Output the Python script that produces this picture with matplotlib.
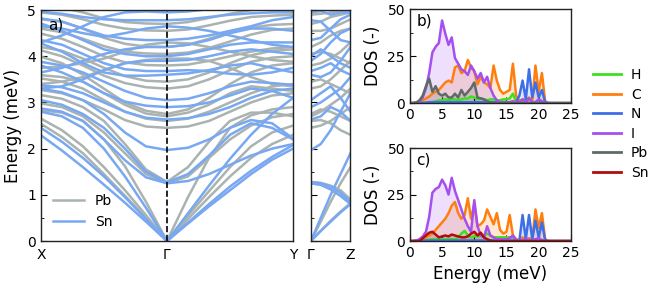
import numpy as np
import matplotlib
matplotlib.use('Agg')
import matplotlib.pyplot as plt
from matplotlib.ticker import MultipleLocator

# band energies (meV) from X to Gamma to Y, 6 steps per segment
sn_bands = [
    [2.29, 1.96, 1.60, 1.22, 0.83, 0.42, 0.00, 0.38, 0.75, 1.10, 1.45, 1.76, 2.00],
    [2.45, 2.15, 1.80, 1.40, 0.95, 0.48, 0.00, 0.40, 0.80, 1.18, 1.52, 1.82, 2.08],
    [2.80, 2.70, 2.45, 2.00, 1.40, 0.72, 0.00, 0.60, 1.20, 1.78, 2.30, 2.75, 3.10],
    [2.87, 2.80, 2.60, 2.20, 1.75, 1.38, 1.25, 1.30, 1.45, 1.65, 1.85, 2.00, 2.10],
    [3.05, 2.95, 2.75, 2.45, 2.00, 1.50, 1.27, 1.45, 1.85, 2.30, 2.55, 2.45, 2.20],
    [3.30, 3.22, 3.05, 2.75, 2.35, 2.05, 1.97, 2.02, 2.20, 2.45, 2.62, 2.55, 2.22],
    [3.37, 3.33, 3.20, 3.00, 2.80, 2.67, 2.63, 2.66, 2.75, 2.90, 3.10, 3.25, 3.30],
    [3.80, 3.65, 3.45, 3.20, 3.02, 2.93, 2.90, 2.92, 3.00, 3.15, 3.30, 3.25, 3.10],
    [3.88, 3.80, 3.65, 3.45, 3.25, 3.10, 3.05, 3.08, 3.20, 3.35, 3.45, 3.42, 3.38],
    [4.28, 4.10, 3.85, 3.65, 3.58, 3.58, 3.60, 3.63, 3.70, 3.80, 3.85, 3.75, 3.65],
    [4.35, 4.25, 4.05, 3.85, 3.72, 3.68, 3.68, 3.70, 3.68, 3.62, 3.60, 3.65, 3.75],
    [3.30, 3.35, 3.50, 3.70, 3.85, 3.90, 3.90, 3.92, 4.00, 4.10, 4.15, 4.10, 4.05],
    [4.71, 4.55, 4.35, 4.15, 4.05, 4.00, 4.00, 4.05, 4.15, 4.25, 4.30, 4.30, 4.30],
    [3.65, 3.75, 3.90, 4.05, 4.15, 4.20, 4.20, 4.25, 4.35, 4.50, 4.60, 4.60, 4.55],
    [4.82, 4.75, 4.60, 4.45, 4.38, 4.35, 4.35, 4.38, 4.45, 4.55, 4.65, 4.78, 4.85],
    [4.65, 4.60, 4.50, 4.42, 4.50, 4.60, 4.65, 4.62, 4.55, 4.45, 4.35, 4.25, 4.20],
    [4.96, 4.92, 4.85, 4.80, 4.78, 4.78, 4.78, 4.80, 4.85, 4.90, 4.93, 4.95, 4.95],
    [4.30, 4.45, 4.65, 4.85, 4.95, 4.97, 4.95, 4.97, 5.02, 5.05, 5.08, 5.10, 5.10],
]
pb_bands = [
    [2.54, 2.25, 1.90, 1.45, 0.98, 0.50, 0.00, 0.48, 0.95, 1.40, 1.80, 2.10, 2.30],
    [2.65, 2.40, 2.05, 1.60, 1.10, 0.56, 0.00, 0.55, 1.08, 1.60, 2.05, 2.35, 2.50],
    [2.83, 2.78, 2.60, 2.20, 1.62, 0.85, 0.00, 0.95, 1.80, 2.45, 2.72, 2.85, 2.90],
    [2.98, 2.90, 2.70, 2.35, 1.90, 1.45, 1.25, 1.40, 1.80, 2.20, 2.50, 2.68, 2.75],
    [3.16, 3.08, 2.90, 2.60, 2.10, 1.55, 1.28, 1.60, 2.15, 2.60, 2.78, 2.78, 2.70],
    [3.27, 3.20, 3.05, 2.85, 2.62, 2.48, 2.45, 2.48, 2.60, 2.80, 3.00, 3.15, 3.20],
    [3.52, 3.45, 3.30, 3.05, 2.80, 2.65, 2.60, 2.65, 2.80, 3.00, 3.20, 3.35, 3.40],
    [3.59, 3.55, 3.45, 3.20, 2.95, 2.76, 2.70, 2.78, 2.95, 3.20, 3.35, 3.30, 3.25],
    [3.99, 3.85, 3.60, 3.30, 3.00, 2.82, 2.75, 2.85, 3.10, 3.40, 3.65, 3.80, 3.85],
    [4.13, 4.00, 3.80, 3.58, 3.42, 3.33, 3.30, 3.35, 3.50, 3.70, 3.88, 3.97, 4.00],
    [4.20, 4.12, 3.95, 3.75, 3.57, 3.47, 3.45, 3.50, 3.65, 3.85, 4.02, 4.12, 4.15],
    [3.40, 3.45, 3.55, 3.70, 3.85, 3.92, 3.95, 3.95, 3.90, 3.75, 3.55, 3.40, 3.35],
    [4.49, 4.38, 4.20, 4.00, 3.87, 3.81, 3.80, 3.82, 3.90, 4.00, 4.10, 4.17, 4.20],
    [3.75, 3.78, 3.85, 3.95, 4.10, 4.25, 4.30, 4.28, 4.20, 4.10, 4.00, 3.92, 3.88],
    [4.60, 4.52, 4.38, 4.22, 4.10, 4.06, 4.05, 4.08, 4.18, 4.32, 4.47, 4.57, 4.60],
    [4.80, 4.75, 4.60, 4.40, 4.27, 4.21, 4.20, 4.25, 4.38, 4.52, 4.62, 4.68, 4.70],
    [4.95, 4.90, 4.80, 4.68, 4.60, 4.56, 4.55, 4.58, 4.67, 4.77, 4.85, 4.88, 4.90],
    [5.10, 5.05, 4.95, 4.82, 4.74, 4.71, 4.70, 4.74, 4.83, 4.92, 5.00, 5.03, 5.05],
]
# Gamma -> Z, at k = Gamma, .25, .5, .75, Z
sn_gz = [
    [0.00, 0.22, 0.42, 0.62, 0.80],
    [0.00, 0.50, 1.00, 1.45, 1.90],
    [1.25, 1.22, 1.12, 0.98, 0.80],
    [1.27, 1.25, 1.18, 1.05, 0.85],
    [1.97, 2.10, 2.40, 2.80, 3.20],
    [2.63, 2.70, 2.90, 2.80, 2.60],
    [2.90, 3.00, 3.15, 3.30, 3.55],
    [3.05, 3.20, 3.35, 3.10, 2.80],
    [3.60, 3.55, 3.65, 3.90, 4.20],
    [3.68, 3.75, 3.85, 3.70, 3.60],
    [3.90, 4.05, 4.30, 4.50, 4.60],
    [4.00, 4.15, 4.00, 3.85, 3.75],
    [4.35, 4.40, 4.60, 4.80, 4.90],
    [4.78, 4.75, 4.55, 4.35, 4.30],
    [4.95, 4.98, 4.90, 4.95, 4.95],
]
pb_gz = [
    [0.00, 0.22, 0.44, 0.64, 0.82],
    [0.00, 0.42, 0.85, 1.25, 1.60],
    [1.25, 1.22, 1.12, 0.98, 0.82],
    [1.28, 1.26, 1.20, 1.10, 0.90],
    [2.45, 2.50, 2.60, 2.75, 2.90],
    [2.60, 2.62, 2.55, 2.40, 2.30],
    [2.70, 2.80, 2.95, 3.10, 3.30],
    [2.75, 2.85, 2.80, 2.70, 2.60],
    [3.30, 3.35, 3.50, 3.70, 3.90],
    [3.45, 3.50, 3.40, 3.30, 3.20],
    [3.80, 3.85, 3.95, 4.10, 4.30],
    [4.05, 4.10, 4.05, 3.95, 3.85],
    [4.20, 4.30, 4.45, 4.55, 4.60],
    [4.55, 4.55, 4.60, 4.70, 4.80],
    [4.70, 4.75, 4.85, 4.90, 4.95],
    [4.90, 4.92, 4.95, 5.00, 5.05],
]

# DOS, energy grid 0..25 meV step 0.5
dos_e = np.linspace(0, 25, 51)
z8 = [0] * 8
dos_pb_H = [0, 0, 0, 0, 0, 0, 0.3, 0.5, 1, 1.5, 1.5, 2, 1.5, 2, 2, 1.5, 2, 2.5, 2.5, 3.5,
            3, 2, 2.5, 2, 1.5, 2, 2, 1.5, 1.5, 2, 2, 2.5, 5, 1, 0.5, 0.5, 0.3, 0.3, 0.2, 0.2,
            0.2, 0.2, 0.1] + z8
dos_pb_C = [0, 0, 0.3, 0.8, 1.5, 2.5, 3.5, 5, 6, 7, 9, 11, 12, 11, 19, 20, 16, 17, 23, 19,
            17, 10, 14, 11, 10, 8, 20, 12, 7, 5, 6, 7, 21, 4, 1, 2, 1.5, 3, 1, 20,
            6, 16, 1] + z8
dos_pb_N = [0, 0, 0, 0, 0.2, 0.3, 0.5, 0.5, 0.5, 0.5, 0.5, 0.5, 0.5, 0.5, 0.5, 0.5, 0.5, 0.5, 0.5, 0.5,
            0.5, 0.5, 0.5, 0.5, 0.5, 0.5, 0.5, 0.5, 0.5, 0.5, 0.5, 0.5, 0.5, 0.3, 4, 12, 2, 18, 3, 11,
            3, 7, 0.5] + z8
dos_pb_I = [0, 0, 0.3, 1, 3, 8, 16, 27, 30, 32, 44, 37, 31, 35, 24, 21, 18, 17, 15, 20,
            17, 13, 16, 11, 14, 8, 4, 1.5, 0.5, 0.3, 0.3, 0.5, 1, 0.5, 0.5, 2, 0.5, 2.5, 0.5, 0.5,
            2, 1, 0.3] + z8
dos_pb_Pb = [0, 0, 0.3, 1.5, 4, 9, 13, 6, 9, 5, 4, 5, 3, 3, 5, 3, 7, 4, 6, 8,
             11, 3, 2.5, 2, 1, 0.3, 0, 0, 0, 0, 0, 0, 0, 0, 0, 0, 0, 0, 0, 0,
             0, 0, 0] + z8

dos_sn_H = [0, 0, 0, 0, 0, 0.3, 0.8, 1, 1, 1, 1, 1, 1, 1, 1, 2, 4, 5.5, 3, 2,
            2.5, 2.5, 3, 3, 4, 3, 2, 2, 2, 2, 2, 2, 2, 0.5, 0.3, 0.3, 0.2, 0.2, 0.2, 0.2,
            0.2, 0.2, 0.1] + z8
dos_sn_C = [0, 0, 0.3, 0.6, 1.2, 2, 3, 4, 6, 8, 10, 12, 15, 19, 21, 15, 12, 14, 23, 12,
            20, 8, 9, 11, 17, 13, 9, 15, 6, 4, 5, 14, 3, 1, 0.5, 2, 1, 1.5, 1, 17,
            7, 15, 1] + z8
dos_sn_N = [0, 0, 0, 0, 0.2, 0.3, 0.3, 0.3, 0.3, 0.3, 0.3, 0.3, 0.3, 0.3, 0.3, 0.3, 0.3, 0.3, 0.3, 0.3,
            0.3, 0.3, 0.3, 0.3, 0.3, 0.3, 0.3, 0.3, 0.3, 0.3, 0.3, 0.3, 0.3, 0.2, 0.2, 14, 1, 14, 1, 11,
            2, 10, 0.5] + z8
dos_sn_I = [0, 0, 0.3, 1, 2.5, 5, 13, 26, 28, 29, 33, 30, 25, 34, 27, 22, 17, 12, 8, 5,
            22, 8, 3, 2, 8, 3, 2, 1, 1, 1, 1, 1.5, 3, 0.5, 0.3, 0.5, 1, 0.5, 0.5, 1,
            1.5, 0.5, 0.2] + z8
dos_sn_Sn = [0, 0, 0, 0, 1.5, 3, 4.5, 5, 3.5, 2, 2.5, 3, 2.5, 3.5, 3, 2.5, 2, 2, 2.5, 4,
             5, 3, 4.5, 2, 1, 0.3, 0, 0, 0, 0, 0, 0, 0, 0, 0, 0, 0, 0, 0, 0,
             0, 0, 0] + z8

c_H = '#3ce01e'
c_C = '#ff7f0e'
c_N = '#3f6fe8'
c_I = '#a64ff0'
c_Pb = '#5f6a68'
c_Sn = '#b00d0d'
c_pb_band = '#aab3af'
c_sn_band = '#78a8f2'

plt.rcParams['font.family'] = 'DejaVu Sans'
plt.rcParams['xtick.direction'] = 'in'
plt.rcParams['ytick.direction'] = 'in'

fig = plt.figure(figsize=(6.6, 2.88), dpi=100)
ax_a = fig.add_axes([0.062, 0.163, 0.382, 0.802])
ax_z = fig.add_axes([0.471, 0.163, 0.060, 0.802])
ax_b = fig.add_axes([0.621, 0.642, 0.244, 0.326])
ax_c = fig.add_axes([0.621, 0.163, 0.244, 0.323])

k_main = np.linspace(0, 2, 13)
k_gz = np.linspace(0, 1, 5)

for i, b in enumerate(pb_bands):
    ax_a.plot(k_main, b, color=c_pb_band, lw=1.8, solid_joinstyle='round',
              label='Pb' if i == 0 else None)
for i, b in enumerate(sn_bands):
    ax_a.plot(k_main, b, color=c_sn_band, lw=1.8, solid_joinstyle='round',
              label='Sn' if i == 0 else None)
ax_a.axvline(1, color='black', ls='--', lw=1.2)
ax_a.set_xlim(0, 2)
ax_a.set_ylim(0, 5)
ax_a.set_xticks([0, 1, 2])
ax_a.set_xticklabels(['X', 'Γ', 'Y'])
ax_a.tick_params(axis='x', length=0, labelsize=10, pad=5)
ax_a.yaxis.set_minor_locator(MultipleLocator(0.5))
ax_a.tick_params(axis='y', labelsize=10, length=4)
ax_a.tick_params(axis='y', which='minor', length=2)
ax_a.set_ylabel('Energy (meV)', fontsize=12)
ax_a.text(0.03, 0.97, 'a)', transform=ax_a.transAxes, fontsize=11, va='top')
ax_a.legend(loc='lower left', bbox_to_anchor=(0.0, 0.0), frameon=False, fontsize=10,
            handlelength=2.2)

for b in pb_gz:
    ax_z.plot(k_gz, b, color=c_pb_band, lw=1.8, solid_joinstyle='round')
for b in sn_gz:
    ax_z.plot(k_gz, b, color=c_sn_band, lw=1.8, solid_joinstyle='round')
ax_z.set_xlim(0, 1)
ax_z.set_ylim(0, 5)
ax_z.set_xticks([0, 1])
ax_z.set_xticklabels(['Γ', 'Z'])
ax_z.tick_params(axis='x', length=0, labelsize=10, pad=5)
ax_z.yaxis.set_minor_locator(MultipleLocator(0.5))
ax_z.tick_params(axis='y', labelleft=False, length=4)
ax_z.tick_params(axis='y', which='minor', length=2)

def draw_dos(ax, series, tag):
    for vals, col in series:
        ax.fill_between(dos_e, vals, color=col, alpha=0.18, lw=0)
        ax.plot(dos_e, vals, color=col, lw=1.8)
    ax.set_xlim(0, 25)
    ax.set_ylim(0, 50)
    ax.set_yticks([0, 25, 50])
    ax.yaxis.set_minor_locator(MultipleLocator(12.5))
    ax.set_xticks([0, 5, 10, 15, 20, 25])
    ax.tick_params(labelsize=10, length=4)
    ax.tick_params(which='minor', length=2)
    ax.set_ylabel('DOS (-)', fontsize=12)
    ax.text(0.04, 0.95, tag, transform=ax.transAxes, fontsize=11, va='top')

draw_dos(ax_b, [(dos_pb_H, c_H), (dos_pb_C, c_C), (dos_pb_N, c_N),
                (dos_pb_I, c_I), (dos_pb_Pb, c_Pb)], 'b)')
draw_dos(ax_c, [(dos_sn_H, c_H), (dos_sn_C, c_C), (dos_sn_N, c_N),
                (dos_sn_I, c_I), (dos_sn_Sn, c_Sn)], 'c)')
ax_c.set_xlabel('Energy (meV)', fontsize=12)

handles = [plt.Line2D([], [], color=c, lw=2) for c in [c_H, c_C, c_N, c_I, c_Pb, c_Sn]]
fig.legend(handles, ['H', 'C', 'N', 'I', 'Pb', 'Sn'], loc='center left',
           bbox_to_anchor=(0.880, 0.57), frameon=False, fontsize=10,
           handlelength=2.0, handletextpad=0.7, labelspacing=0.4)

for ax in [ax_a, ax_z, ax_b, ax_c]:
    for s in ax.spines.values():
        s.set_color('#222222')
        s.set_linewidth(1.0)

fig.savefig('out.png', dpi=100)
